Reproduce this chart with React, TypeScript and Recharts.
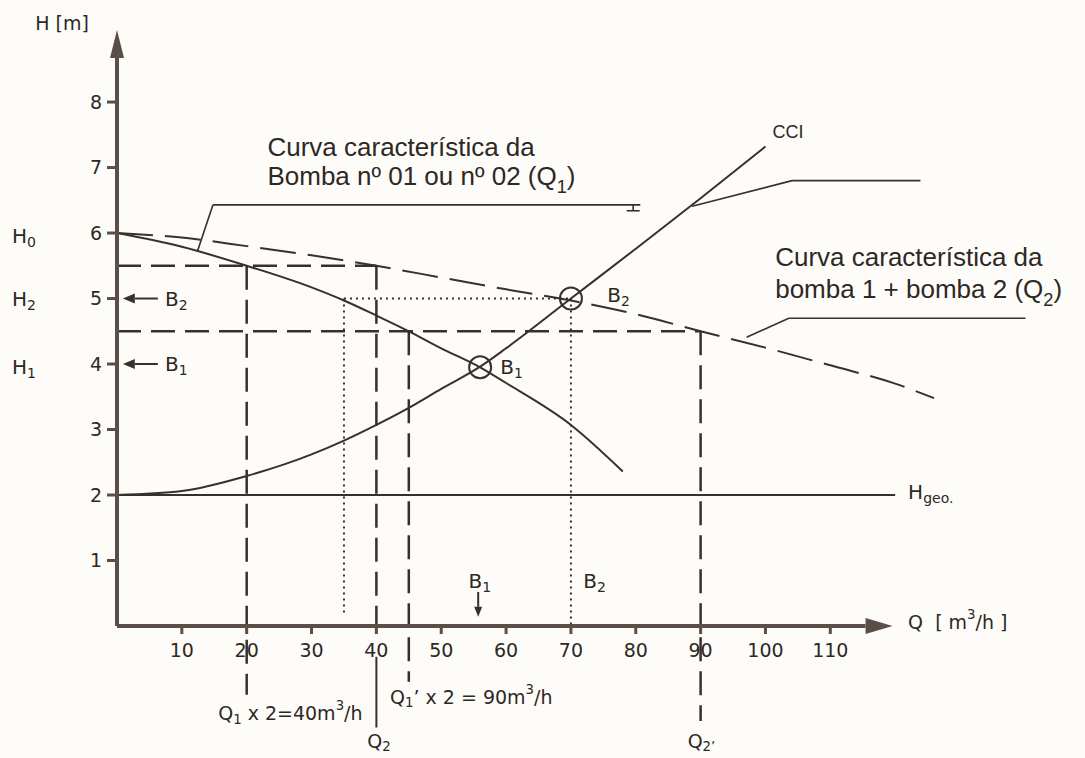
import { ComposedChart, Line, XAxis, YAxis, ReferenceLine, ReferenceDot } from 'recharts'

// Bomba nº 01 (ou nº 02) sozinha - Q1
const pumpQ = [0, 10, 20, 30, 35, 40, 45, 50, 56, 60, 70, 78]
const pumpH = [6.0, 5.79, 5.5, 5.17, 4.97, 4.74, 4.5, 4.24, 3.95, 3.71, 3.07, 2.36]

// Bomba 1 + bomba 2 em paralelo - Q2
const parallelQ = [0, 10, 20, 30, 40, 50, 60, 70, 80, 90, 100, 110, 120, 126]
const parallelH = [6.0, 5.93, 5.8, 5.66, 5.5, 5.32, 5.14, 4.97, 4.76, 4.5, 4.25, 3.98, 3.7, 3.48]

// Curva característica da instalação (CCI)
const cciQ = [0, 10, 20, 30, 35, 40, 45, 50, 56, 60, 70, 80, 90, 100]
const cciH = [2.0, 2.06, 2.29, 2.62, 2.83, 3.07, 3.33, 3.62, 3.96, 4.24, 5.0, 5.76, 6.53, 7.32]

// Altura geométrica
const geoQ = [0, 120]
const geoH = [2, 2]

// Pontos de operação
const b1 = { q: 56, h: 3.95 }
const b2 = { q: 70, h: 5.0 }

const qTicks = [10, 20, 30, 40, 50, 60, 70, 80, 90, 100, 110]
const hTicks = [1, 2, 3, 4, 5, 6, 7, 8]

const toRows = (qs: number[], hs: number[]) => qs.map((q, i) => ({ q, h: hs[i] }))

const INK = '#38302d'
const AXIS = '#5b4e49'
const TEXT = '#2d2825'
const DIN = '"DejaVu Sans", sans-serif'
const HELV = '"Liberation Sans", Arial, sans-serif'

// "_x" / "_{xy}" = subscript, "^x" = superscript
function rich(src: string, fs: number) {
  const parts: any[] = []
  const re = /([_^])(\{[^}]*\}|.)|[^_^]+/g
  let m: RegExpExecArray | null
  let shift = 0
  let i = 0
  while ((m = re.exec(src))) {
    let txt = m[0]
    let target = 0
    let size = fs
    if (m[1]) {
      txt = m[2].startsWith('{') ? m[2].slice(1, -1) : m[2]
      target = m[1] === '_' ? fs * 0.3 : -fs * 0.42
      size = fs * 0.7
    }
    parts.push(
      <tspan key={i++} dy={target - shift} fontSize={size}>
        {txt}
      </tspan>
    )
    shift = target
  }
  return parts
}

type NoteOpts = { fs?: number; font?: string; gap?: number; baseline?: boolean; anchor?: string }

function note(id: string, q: number, h: number, lines: string[], o: NoteOpts = {}) {
  const fs = o.fs ?? 20
  return (
    <ReferenceDot
      key={id}
      x={q}
      y={h}
      r={1}
      ifOverflow="visible"
      shape={(p: any) => (
        <g>
          {lines.map((ln, k) => (
            <text
              key={k}
              x={p.cx}
              y={p.cy + k * (o.gap ?? 0)}
              fontSize={fs}
              fontFamily={o.font ?? DIN}
              fill={TEXT}
              textAnchor={o.anchor ?? 'start'}
              dominantBaseline={o.baseline ? 'alphabetic' : 'central'}
              style={{ whiteSpace: 'pre' }}
            >
              {rich(ln, fs)}
            </text>
          ))}
        </g>
      )}
    />
  )
}

function arrowShape(head: number, half: number, width: number, color: string) {
  return (p: any) => {
    const { x1, y1, x2, y2 } = p
    const a = Math.atan2(y2 - y1, x2 - x1)
    const bx = x2 - head * Math.cos(a)
    const by = y2 - head * Math.sin(a)
    const nx = -Math.sin(a) * half
    const ny = Math.cos(a) * half
    return (
      <g>
        <line x1={x1} y1={y1} x2={bx} y2={by} stroke={color} strokeWidth={width} />
        <polygon points={`${x2},${y2} ${bx + nx},${by + ny} ${bx - nx},${by - ny}`} fill={color} />
      </g>
    )
  }
}

function seg(id: string, a: number[], b: number[], width: number, dash?: string, color = INK) {
  return (
    <ReferenceLine
      key={id}
      segment={[
        { x: a[0], y: a[1] },
        { x: b[0], y: b[1] },
      ]}
      stroke={color}
      strokeWidth={width}
      strokeDasharray={dash}
      ifOverflow="visible"
    />
  )
}

function arrow(id: string, a: number[], b: number[], head: number, half: number, width: number, color = INK) {
  return (
    <ReferenceLine
      key={id}
      segment={[
        { x: a[0], y: a[1] },
        { x: b[0], y: b[1] },
      ]}
      ifOverflow="visible"
      shape={arrowShape(head, half, width, color)}
    />
  )
}

const DASH = '24 10'
const DOT = '2 4'

export default function App() {
  return (
    <div style={{ width: 1085, height: 758, background: '#fdfcf8' }}>
      <style>{'html, body { margin: 0; padding: 0; overflow: hidden; background: #fdfcf8; }'}</style>
      <ComposedChart width={1085} height={758} margin={{ top: 30, right: 125, bottom: 0, left: 0 }}>
        <XAxis
          type="number"
          dataKey="q"
          domain={[0, 130]}
          allowDataOverflow
          ticks={qTicks}
          axisLine={false}
          tickLine={{ stroke: AXIS, strokeWidth: 3 }}
          tickSize={8}
          tickMargin={10}
          height={132}
          tick={{ fontSize: 19, fill: TEXT, fontFamily: DIN }}
        />
        <YAxis
          type="number"
          dataKey="h"
          domain={[0, 9.1]}
          allowDataOverflow
          ticks={hTicks}
          axisLine={false}
          tickLine={{ stroke: AXIS, strokeWidth: 3 }}
          tickSize={10}
          tickMargin={5}
          width={117}
          tick={{ fontSize: 19, fill: TEXT, fontFamily: DIN }}
        />

        {/* linhas de leitura */}
        {seg('h55', [0, 5.5], [40, 5.5], 2.5, DASH)}
        {seg('v20', [20, 5.5], [20, -1.05], 2.5, DASH)}
        {seg('v40', [40, 5.5], [40, 0], 2.5, DASH)}
        {seg('v40b', [40, -0.47], [40, -1.55], 2)}
        {seg('h45', [0, 4.5], [90, 4.5], 2.5, DASH)}
        {seg('v45', [45, 4.5], [45, -0.85], 2.5, DASH)}
        {seg('v90', [90, 4.5], [90, -1.45], 2.5, DASH)}
        {seg('hB2', [35, b2.h], [b2.q, b2.h], 2, DOT)}
        {seg('v35', [35, b2.h], [35, 0.15], 2, DOT)}
        {seg('v70', [b2.q, b2.h], [b2.q, 0], 2, DOT)}

        {/* chamadas */}
        {seg('ld1a', [12.4, 5.72], [14.8, 6.43], 1.6)}
        {seg('ld1b', [14.8, 6.43], [80.7, 6.43], 1.6)}
        {seg('ld1c', [79.6, 6.43], [79.6, 6.34], 1.6)}
        {seg('ld1d', [78.6, 6.34], [80.6, 6.34], 1.6)}
        {seg('ld2a', [88.7, 6.41], [104.1, 6.8], 1.6)}
        {seg('ld2b', [104.1, 6.8], [123.9, 6.8], 1.6)}
        {seg('ld3a', [97.1, 4.41], [103.6, 4.7], 1.6)}
        {seg('ld3b', [103.6, 4.7], [140.1, 4.7], 1.6)}

        <Line data={toRows(geoQ, geoH)} dataKey="h" type="linear" stroke={INK} strokeWidth={2} dot={false} isAnimationActive={false} />
        <Line data={toRows(cciQ, cciH)} dataKey="h" type="monotone" stroke={INK} strokeWidth={2} dot={false} isAnimationActive={false} />
        <Line data={toRows(pumpQ, pumpH)} dataKey="h" type="monotone" stroke={INK} strokeWidth={2} dot={false} isAnimationActive={false} />
        <Line
          data={toRows(parallelQ, parallelH)}
          dataKey="h"
          type="monotone"
          stroke={INK}
          strokeWidth={2}
          strokeDasharray="36 12"
          dot={false}
          isAnimationActive={false}
        />

        {/* eixos com setas */}
        {arrow('axX', [0, 0], [119.6, 0], 27, 8, 4, AXIS)}
        {arrow('axY', [0, 0], [0, 9.1], 28, 7, 4, AXIS)}

        <ReferenceDot x={b1.q} y={b1.h} r={11} fill="none" stroke={INK} strokeWidth={2} ifOverflow="visible" />
        <ReferenceDot x={b2.q} y={b2.h} r={11} fill="none" stroke={INK} strokeWidth={2} ifOverflow="visible" />

        {arrow('aB2', [6.3, 5.0], [0.9, 5.0], 12, 5, 2)}
        {arrow('aB1', [6.3, 4.0], [0.9, 4.0], 12, 5, 2)}
        {arrow('aB1x', [55.7, 0.52], [55.7, 0.14], 10, 4, 2)}

        {note('Hm', -12.6, 9.2, ['H [m]'], { fs: 19 })}
        {note('H0', -16.2, 5.95, ['H_0'])}
        {note('H2', -16.2, 5.0, ['H_2'])}
        {note('H1', -16.2, 3.96, ['H_1'])}
        {note('B2l', 7.4, 5.0, ['B_2'])}
        {note('B1l', 7.4, 4.0, ['B_1'])}
        {note('B2c', 75.6, 5.05, ['B_2'])}
        {note('B1c', 59.1, 3.96, ['B_1'])}
        {note('B1x', 54.2, 0.68, ['B_1'])}
        {note('B2x', 71.9, 0.68, ['B_2'])}
        {note('Hgeo', 122, 2.05, ['H_{geo.}'])}
        {note('Qax', 122, 0.06, ['Q  [ m^3/h ]'], { fs: 19 })}
        {note('Q1x2', 15.6, -1.33, ['Q_1 x 2=40m^3/h'], { fs: 19 })}
        {note('Q1px2', 42.1, -1.08, ['Q_1’ x 2 = 90m^3/h'], { fs: 19 })}
        {note('Q2', 38.6, -1.75, ['Q_2'], { fs: 19 })}
        {note('Q2p', 88, -1.75, ['Q_{2’}'], { fs: 19 })}
        {note('cci', 101.1, 7.45, ['CCI'], { fs: 18, font: HELV, baseline: true })}
        {note('c1', 23.2, 7.18, ['Curva característica da', 'Bomba nº 01 ou nº 02 (Q_1)'], {
          fs: 26,
          font: HELV,
          gap: 29,
          baseline: true,
        })}
        {note('c2', 101.5, 5.5, ['Curva característica da', 'bomba 1 + bomba 2 (Q_2)'], {
          fs: 26,
          font: HELV,
          gap: 32,
          baseline: true,
        })}
      </ComposedChart>
    </div>
  )
}
